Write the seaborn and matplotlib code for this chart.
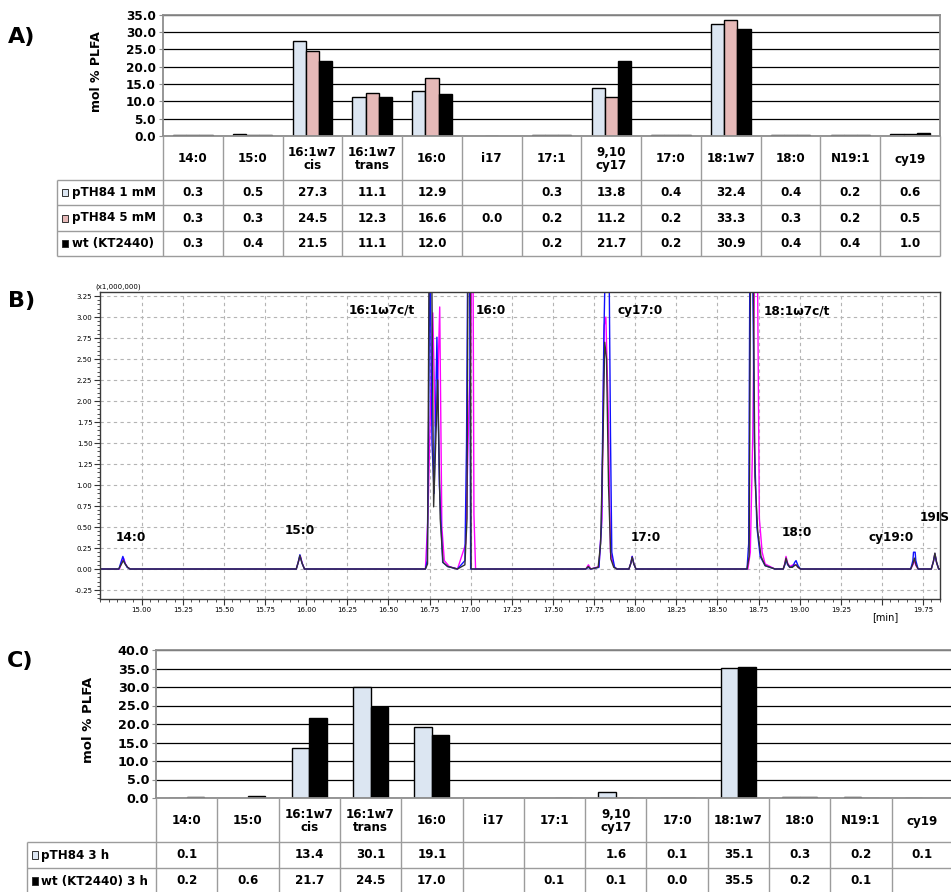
import numpy as np
import pandas as pd
import matplotlib
matplotlib.use("Agg")
import matplotlib.pyplot as plt
from matplotlib.patches import Rectangle
from matplotlib.ticker import MultipleLocator, FixedLocator
import seaborn as sns

nan = np.nan

# ---------------------------------------------------------------- data
fatty_acids = ["14:0", "15:0", "16:1w7\ncis", "16:1w7\ntrans", "16:0", "i17", "17:1",
               "9,10\ncy17", "17:0", "18:1w7", "18:0", "N19:1", "cy19"]

# A) mol % PLFA
a_series = ["pTH84 1 mM", "pTH84 5 mM", "wt (KT2440)"]
a_pth84_1mm = [0.3, 0.5, 27.3, 11.1, 12.9, nan, 0.3, 13.8, 0.4, 32.4, 0.4, 0.2, 0.6]
a_pth84_5mm = [0.3, 0.3, 24.5, 12.3, 16.6, 0.0, 0.2, 11.2, 0.2, 33.3, 0.3, 0.2, 0.5]
a_wt = [0.3, 0.4, 21.5, 11.1, 12.0, nan, 0.2, 21.7, 0.2, 30.9, 0.4, 0.4, 1.0]

# C) mol % PLFA after 3 h
c_series = ["pTH84 3 h", "wt (KT2440) 3 h"]
c_pth84_3h = [0.1, nan, 13.4, 30.1, 19.1, nan, nan, 1.6, 0.1, 35.1, 0.3, 0.2, 0.1]
c_wt_3h = [0.2, 0.6, 21.7, 24.5, 17.0, nan, 0.1, 0.1, 0.0, 35.5, 0.2, 0.1, nan]

# B) GC chromatograms (retention time [min], signal x 1,000,000)
rt_black = [14.747, 14.86, 14.875, 14.888, 14.90, 14.915, 14.93,
            15.94, 15.952, 15.962, 15.975, 15.99,
            16.725, 16.738, 16.748, 16.762, 16.775, 16.80, 16.815, 16.832, 16.86, 16.92,
            16.965, 16.978, 16.984, 16.998, 17.003,
            17.70, 17.715, 17.73, 17.775, 17.79, 17.805, 17.815, 17.826, 17.838, 17.852, 17.87, 17.89,
            17.962, 17.974, 17.982, 17.992, 18.005,
            18.68, 18.693, 18.702, 18.716, 18.728, 18.745, 18.765, 18.79, 18.85,
            18.90, 18.91, 18.917, 18.927, 18.94, 18.955, 18.968, 18.978, 18.99, 19.005,
            19.675, 19.688, 19.697, 19.707, 19.72,
            19.80, 19.813, 19.822, 19.832, 19.845, 19.853]
sig_black = [0, 0, 0.05, 0.10, 0.06, 0.02, 0,
             0, 0.08, 0.16, 0.07, 0,
             0, 0.06, 4.0, 4.0, 0.74, 2.25, 0.6, 0.08, 0.03, 0,
             0.05, 0.6, 4.0, 4.0, 0,
             0, 0.03, 0, 0.02, 0.3, 1.6, 2.7, 2.5, 1.0, 0.12, 0.02, 0,
             0, 0.07, 0.14, 0.06, 0,
             0, 0.15, 4.0, 4.0, 1.1, 0.45, 0.15, 0.04, 0,
             0, 0.06, 0.13, 0.06, 0.02, 0.02, 0.04, 0.05, 0.02, 0,
             0, 0.06, 0.13, 0.05, 0,
             0, 0.09, 0.19, 0.08, 0, 0]

rt_blue = [14.747, 14.862, 14.876, 14.886, 14.898, 14.912, 14.93,
           15.94, 15.952, 15.962, 15.975, 15.99,
           16.725, 16.736, 16.745, 16.752, 16.765, 16.778, 16.795, 16.81, 16.83, 16.86, 16.92,
           16.965, 16.975, 16.983, 16.993, 17.0,
           17.70, 17.715, 17.73, 17.78, 17.795, 17.81, 17.822, 17.84, 17.85, 17.858, 17.875, 17.89,
           17.962, 17.974, 17.982, 17.992, 18.005,
           18.68, 18.69, 18.698, 18.712, 18.725, 18.74, 18.76, 18.79, 18.85,
           18.90, 18.91, 18.917, 18.927, 18.94, 18.958, 18.97, 18.978, 18.99, 19.005,
           19.675, 19.688, 19.692, 19.702, 19.706, 19.72,
           19.80, 19.813, 19.822, 19.832, 19.845, 19.853]
sig_blue = [0, 0, 0.09, 0.15, 0.07, 0.02, 0,
            0, 0.08, 0.17, 0.07, 0,
            0, 0.1, 1.8, 4.0, 1.5, 0.9, 2.76, 1.0, 0.08, 0.03, 0,
            0.1, 1.5, 4.0, 4.0, 0,
            0, 0.02, 0, 0.02, 0.5, 2.8, 4.0, 4.0, 1.6, 0.2, 0.02, 0,
            0, 0.07, 0.15, 0.06, 0,
            0, 0.3, 4.0, 4.0, 1.5, 0.5, 0.15, 0.04, 0,
            0, 0.05, 0.11, 0.05, 0.02, 0.03, 0.08, 0.1, 0.04, 0,
            0, 0.1, 0.2, 0.2, 0.1, 0,
            0, 0.09, 0.18, 0.08, 0, 0]

rt_magenta = [14.747, 14.865, 14.878, 14.89, 14.902, 14.915, 14.93,
              15.94, 15.952, 15.964, 15.976, 15.99,
              16.725, 16.74, 16.755, 16.77, 16.785, 16.80, 16.812, 16.825, 16.84, 16.87, 16.92,
              16.97, 16.99, 17.0, 17.008, 17.014, 17.02, 17.03,
              17.70, 17.716, 17.73, 17.78, 17.798, 17.812, 17.822, 17.836, 17.85, 17.87, 17.89,
              17.962, 17.974, 17.982, 17.992, 18.005,
              18.685, 18.70, 18.715, 18.728, 18.742, 18.755, 18.772, 18.79, 18.85,
              18.90, 18.91, 18.917, 18.927, 18.94, 18.96, 18.978, 18.99, 19.005,
              19.675, 19.688, 19.697, 19.707, 19.72,
              19.80, 19.813, 19.822, 19.832, 19.845, 19.853]
sig_magenta = [0, 0, 0.07, 0.13, 0.06, 0.02, 0,
               0, 0.08, 0.16, 0.07, 0,
               0, 0.6, 1.85, 3.05, 1.7, 2.2, 3.12, 0.5, 0.1, 0.03, 0,
               0.3, 1.95, 2.5, 4.0, 4.0, 0.65, 0,
               0, 0.05, 0, 0.03, 0.6, 2.9, 3.0, 1.9, 0.2, 0.03, 0,
               0, 0.07, 0.15, 0.06, 0,
               0, 0.2, 1.6, 4.0, 4.0, 0.6, 0.2, 0.06, 0,
               0, 0.07, 0.15, 0.07, 0.03, 0.05, 0.05, 0.02, 0,
               0, 0.05, 0.1, 0.04, 0,
               0, 0.09, 0.18, 0.08, 0, 0]

peak_labels = ["16:1ω7c/t", "16:0", "cy17:0", "18:1ω7c/t", "14:0", "15:0",
               "17:0", "18:0", "cy19:0", "19IS"]

# ---------------------------------------------------------------- style
sns.set_style("white")
plt.rcParams["font.family"] = ["DejaVu Sans"]
plt.rcParams["text.color"] = "black"
plt.rcParams["xtick.color"] = "black"
plt.rcParams["ytick.color"] = "black"
plt.rcParams["xtick.labelcolor"] = "black"
plt.rcParams["ytick.labelcolor"] = "black"

W, H = 951, 892
fig = plt.figure(figsize=(W / 100, H / 100), dpi=100)


def rect(l, t, r, b):
    return [l / W, 1 - b / H, (r - l) / W, (b - t) / H]


LIGHT_BLUE = "#dce6f2"
PINK = "#e6b9b8"
TABLE_GRAY = "#9c9c9c"
SPINE_GRAY = "#8e8e8e"
FS = 8.6

overlay = fig.add_axes([0, 0, 1, 1])
overlay.set_xlim(0, W)
overlay.set_ylim(H, 0)
overlay.axis("off")
overlay.set_zorder(5)


def bar_panel(box, series, columns, colors, ymax, width, tick_fs):
    ax = fig.add_axes(rect(*box))
    rows = []
    for name, vals in zip(series, columns):
        for fa, v in zip(fatty_acids, vals):
            if not np.isnan(v):
                rows.append({"fa": fa, "series": name, "value": v})
    df = pd.DataFrame(rows)
    sns.barplot(data=df, x="fa", y="value", hue="series", order=fatty_acids,
                hue_order=series, palette=colors, saturation=1, width=width,
                gap=0, edgecolor="black", linewidth=1.0, errorbar=None,
                legend=False, ax=ax)
    ax.set_xlim(-0.5, len(fatty_acids) - 0.5)
    ax.set_ylim(0, ymax)
    ticks = np.arange(0, ymax + 0.1, 5)
    ax.set_yticks(ticks)
    ax.set_yticklabels([f"{v:.1f}" for v in ticks], fontweight="bold", fontsize=tick_fs)
    ax.set_xticks([])
    ax.set_xlabel("")
    ax.set_ylabel("")
    ax.grid(axis="y", color="black", linewidth=0.9)
    ax.grid(axis="x", visible=False)
    ax.set_axisbelow(True)
    for sp in ax.spines.values():
        sp.set_color(SPINE_GRAY)
        sp.set_linewidth(1.3)
        sp.set_visible(True)
    ax.tick_params(axis="y", left=True, length=3, width=0.8, color=SPINE_GRAY, pad=2)
    return ax


def draw_table(col_left, col_right, label_left, top, header_bottom, row_bottoms,
               series, columns, colors, key_w, key_h, text_dx):
    n = len(fatty_acids)
    colw = (col_right - col_left) / n
    lk = dict(color=TABLE_GRAY, linewidth=1.0, solid_capstyle="butt")
    for yb in [header_bottom] + row_bottoms:
        overlay.plot([label_left, col_right], [yb, yb], **lk)
    for i in range(n + 1):
        x = col_left + i * colw
        overlay.plot([x, x], [top, row_bottoms[-1]], **lk)
    overlay.plot([label_left, label_left], [header_bottom, row_bottoms[-1]], **lk)
    for i, fa in enumerate(fatty_acids):
        overlay.text(col_left + (i + 0.5) * colw, (top + header_bottom) / 2 + 1, fa,
                     ha="center", va="center", fontsize=FS, fontweight="bold",
                     linespacing=1.0)
    prev = header_bottom
    for name, vals, color, yb in zip(series, columns, colors, row_bottoms):
        yc = (prev + yb) / 2
        overlay.add_patch(Rectangle((label_left + 5, yc - key_h / 2), key_w, key_h,
                                    facecolor=color, edgecolor="#303030", linewidth=0.7))
        overlay.text(label_left + text_dx, yc, name, ha="left", va="center",
                     fontsize=FS, fontweight="bold")
        for i, v in enumerate(vals):
            if not np.isnan(v):
                overlay.text(col_left + (i + 0.5) * colw, yc, f"{v:.1f}",
                             ha="center", va="center", fontsize=FS, fontweight="bold")
        prev = yb


# ---------------------------------------------------------------- panel A
a_cols = [a_pth84_1mm, a_pth84_5mm, a_wt]
a_colors = [LIGHT_BLUE, PINK, "black"]
bar_panel((163, 14.5, 940, 136), a_series, a_cols, a_colors, 35, 0.66, 8.7)
draw_table(163, 940, 57, 136, 180, [205, 231, 256], a_series, a_cols, a_colors,
           6, 7, 15)
fig.text(97 / W, 1 - 72 / H, "mol % PLFA", rotation=90, ha="center", va="center",
         fontsize=9, fontweight="bold")

# ---------------------------------------------------------------- panel C
c_cols = [c_pth84_3h, c_wt_3h]
c_colors = [LIGHT_BLUE, "black"]
bar_panel((156, 650, 953, 798), c_series, c_cols, c_colors, 40, 0.57, 9.2)
draw_table(156, 953, 27, 798, 842, [868, 894], c_series, c_cols, c_colors, 6, 8, 14)
fig.text(88 / W, 1 - 720 / H, "mol % PLFA", rotation=90, ha="center", va="center",
         fontsize=9.5, fontweight="bold")

# ---------------------------------------------------------------- panel B
axB = fig.add_axes(rect(100, 292, 940, 599))
sns.lineplot(x=rt_magenta, y=sig_magenta, color="#ff00ff", linewidth=1.0,
             estimator=None, sort=False, ax=axB)
sns.lineplot(x=rt_blue, y=sig_blue, color="#1010ff", linewidth=1.0,
             estimator=None, sort=False, ax=axB)
sns.lineplot(x=rt_black, y=sig_black, color="#333333", linewidth=1.0,
             estimator=None, sort=False, ax=axB)
axB.set_xlim(14.747, 19.853)
axB.set_ylim(-0.357, 3.298)
xt = np.arange(15.0, 19.76, 0.25)
axB.xaxis.set_major_locator(FixedLocator(xt))
axB.set_xticklabels(["" if abs(t - 19.5) < 1e-6 else f"{t:.2f}" for t in xt], fontsize=5)
axB.xaxis.set_minor_locator(MultipleLocator(0.05))
yt = np.arange(-0.25, 3.26, 0.25)
axB.yaxis.set_major_locator(FixedLocator(yt))
axB.set_yticklabels([f"{t:.2f}" for t in yt], fontsize=5)
axB.yaxis.set_minor_locator(MultipleLocator(0.05))
axB.tick_params(which="major", direction="out", length=4, width=0.8, pad=1.5,
                bottom=True, left=True, color="#333333")
axB.tick_params(which="minor", direction="out", length=2, width=0.6,
                bottom=True, left=True, color="#333333")
axB.grid(which="major", color="#b4b4b4", linestyle=(0, (3, 3)), linewidth=0.8)
axB.set_xlabel("")
axB.set_ylabel("")
for sp in axB.spines.values():
    sp.set_color("#3a3a3a")
    sp.set_linewidth(1.0)

label_pos = [(16.461, 3.08, "center"), (17.032, 3.08, "left"), (17.895, 3.08, "left"),
             (18.783, 3.07, "left"), (14.935, 0.38, "center"), (15.962, 0.46, "center"),
             (18.065, 0.38, "center"), (18.98, 0.44, "center"), (19.555, 0.38, "center"),
             (19.822, 0.61, "center")]
for (x, y, ha), txt in zip(label_pos, peak_labels):
    axB.text(x, y, txt, ha=ha, va="center", fontsize=8.7, fontweight="bold")
fig.text(95 / W, 1 - 287 / H, "(x1,000,000)", ha="left", va="center", fontsize=5)
fig.text(885 / W, 1 - 617 / H, "[min]", ha="center", va="center", fontsize=7)

# ---------------------------------------------------------------- panel letters
fig.text(22 / W, 1 - 37 / H, "A)", ha="center", va="center", fontsize=16, fontweight="bold")
fig.text(22 / W, 1 - 301 / H, "B)", ha="center", va="center", fontsize=16, fontweight="bold")
fig.text(20 / W, 1 - 661 / H, "C)", ha="center", va="center", fontsize=16, fontweight="bold")

fig.savefig("out.png", dpi=100)
